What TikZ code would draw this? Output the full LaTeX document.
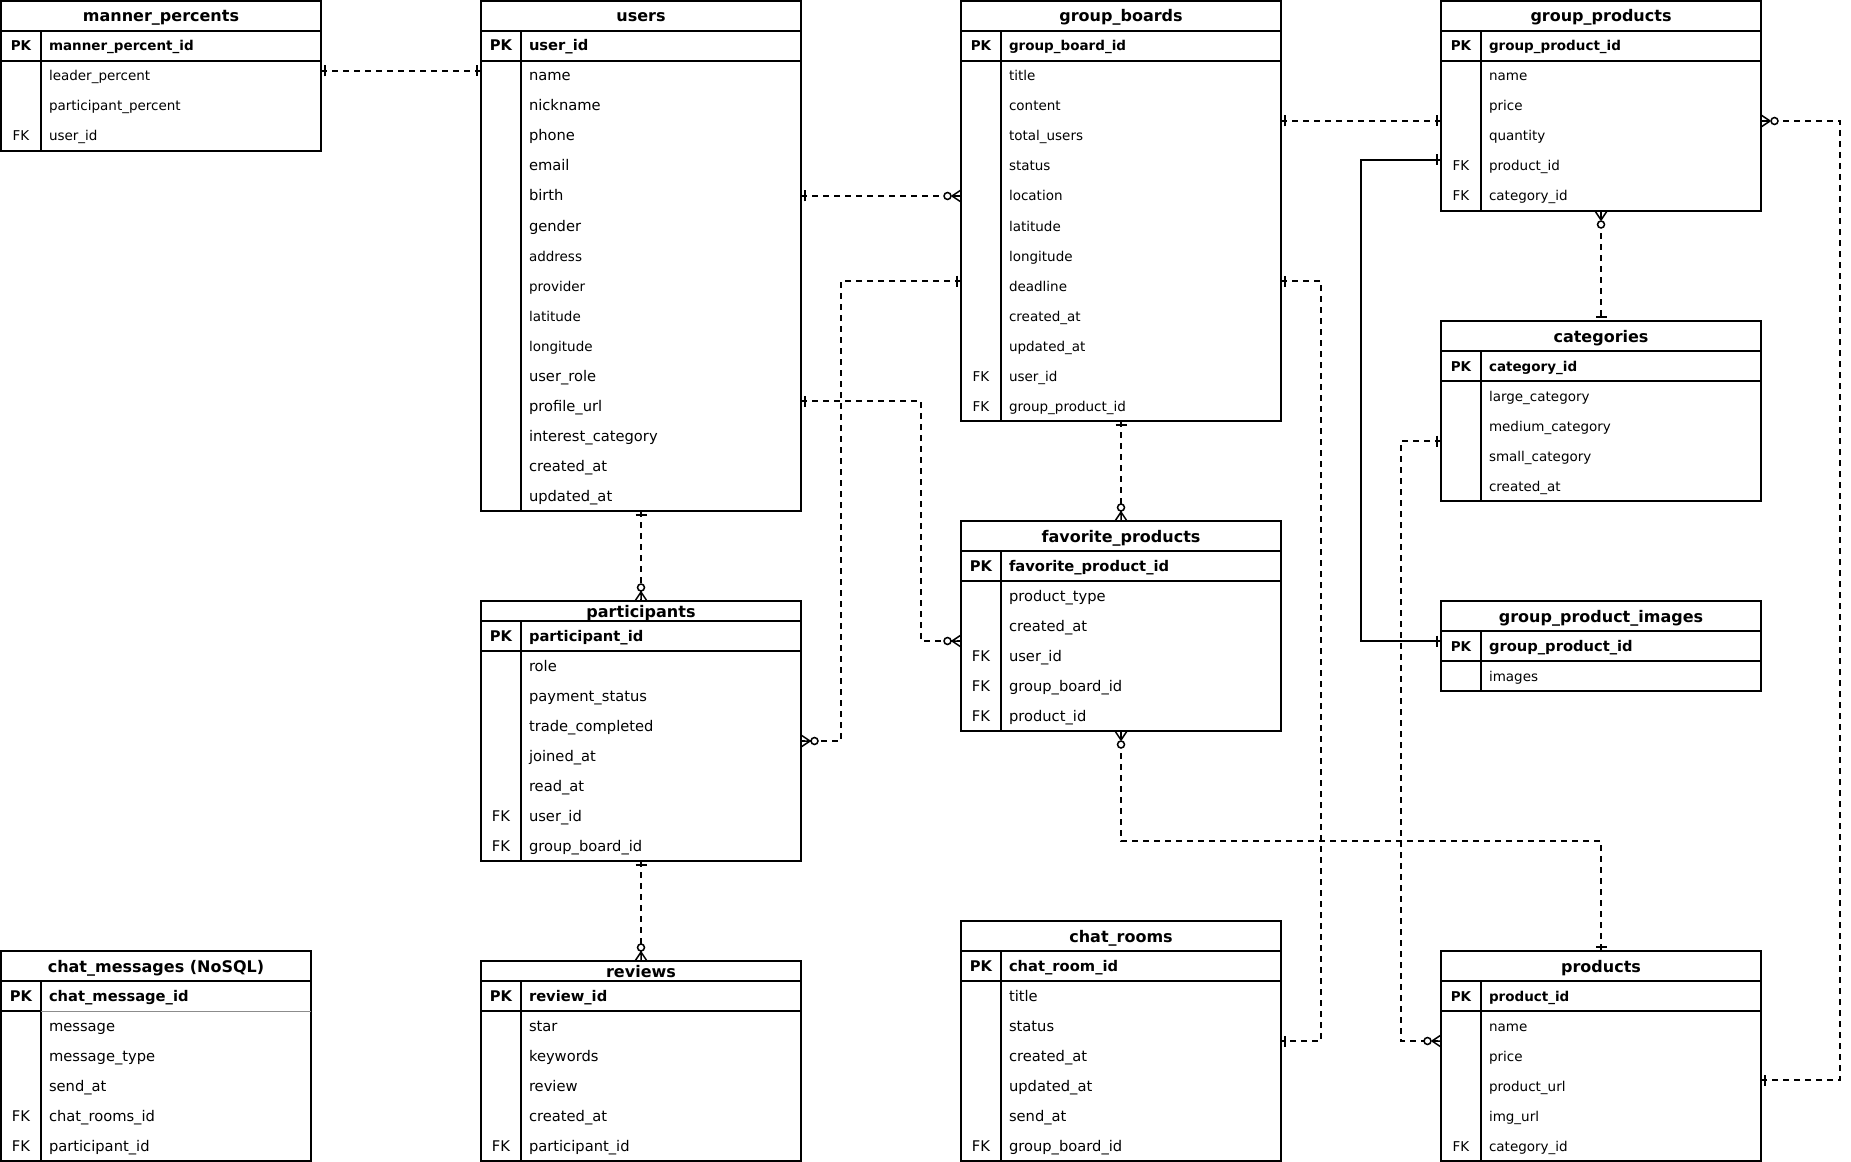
\documentclass[tikz,border=0pt]{standalone}
\usepackage{fontspec}
\setmainfont{DejaVu Sans}

\newcommand{\ersmall}{\fontsize{13.5pt}{16pt}\selectfont}
\newcommand{\erlarge}{\fontsize{14.7pt}{17pt}\selectfont}

% one entity table: id, left, top, width, title height, row font, title, pk, rows
\newcommand{\ertable}[9]{%
  \pgfmathsetmacro{\erfw}{#4-96}%
  \node[tabtitle,minimum width=#4pt,minimum height=#5pt] (#1) at (#2,#3) {#7};
  \node[pkrow,font=#6\bfseries,text width=\erfw pt] (#1-0) at (#1.south west) {#8};
  \node[keycell,font=#6\bfseries] (#1-k0) at (#1-0.west) {PK};
  \foreach \k/\f [count=\i, remember=\i as \j (initially 0)] in {#9}{
    \node[fieldrow,font=#6,text width=\erfw pt] (#1-\i) at (#1-\j.south west) {\f};
    \node[keycell,font=#6] (#1-k\i) at (#1-\i.west) {\k};
    \xdef\erlast{\i}
  }
  \draw[tabline] (#1.north west) rectangle (#1-\erlast.south east);
  \draw[tabline] (#1.south west) -- (#1.south east);
  \draw[tabline] (#1-0.south west) -- (#1-0.south east);
  \draw[tabline] ([xshift=40pt]#1.south west) -- ([xshift=40pt]#1-\erlast.south west);
}

\begin{document}
\begin{tikzpicture}[
  x=1pt, y=-1pt,
  every node/.style={outer sep=0pt},
  tabline/.style={line width=1.4pt, draw=black},
  tabtitle/.style={anchor=north west, inner sep=0pt, text height=12pt, text depth=0pt,
    font=\fontsize{16pt}{19pt}\selectfont\bfseries},
  pkrow/.style={anchor=north west, inner xsep=48pt, inner ysep=0pt, minimum height=30pt,
    align=left, text height=11pt, text depth=1pt},
  fieldrow/.style={pkrow},
  keycell/.style={anchor=west, inner sep=0pt, minimum width=40pt, minimum height=30pt,
    text height=11pt, text depth=1pt},
  rel/.style={line width=1.6pt, dash pattern=on 6pt off 5pt},
  solidrel/.style={line width=1.6pt},
  onetick/.pic={\draw[line width=1.5pt] (-4,-5.5) -- (-4,5.5);},
  zmany/.pic={
    \draw[line width=1.5pt] (-9,0) -- (0,-6) (-9,0) -- (0,6) (-9,0) -- (0,0);
    \draw[line width=1.5pt,fill=white] (-13.5,0) circle (3.5pt);}
]

\useasboundingbox (-1,-1) rectangle (1850,1160);
\fill[white] (-1,-1) rectangle (1850,1160);

% tables
\ertable{mp}{0}{0}{320}{30}{\ersmall}{manner\_percents}{manner\_percent\_id}
  {/leader\_percent, /participant\_percent, FK/user\_id}

\ertable{users}{480}{0}{320}{30}{\erlarge}{users}{user\_id}
  {/name, /nickname, /phone, /email, /birth, /gender, /\ersmall address,
   /\ersmall provider, /\ersmall latitude, /\ersmall longitude, /user\_role,
   /profile\_url, /interest\_category, /created\_at, /updated\_at}

\ertable{gb}{960}{0}{320}{30}{\ersmall}{group\_boards}{group\_board\_id}
  {/title, /content, /total\_users, /status, /location, /latitude, /longitude,
   /deadline, /created\_at, /updated\_at, FK/user\_id, FK/group\_product\_id}

\ertable{gp}{1440}{0}{320}{30}{\ersmall}{group\_products}{group\_product\_id}
  {/name, /price, /quantity, FK/product\_id, FK/category\_id}

\ertable{cat}{1440}{320}{320}{30}{\ersmall}{categories}{category\_id}
  {/large\_category, /medium\_category, /small\_category, /created\_at}

\ertable{gpi}{1440}{600}{320}{30}{\ersmall}{group\_product\_images}{\erlarge group\_product\_id}
  {/images}

\ertable{fp}{960}{520}{320}{30}{\erlarge}{favorite\_products}{favorite\_product\_id}
  {/product\_type, /created\_at, FK/user\_id, FK/group\_board\_id, FK/product\_id}

\ertable{part}{480}{600}{320}{20}{\erlarge}{participants}{participant\_id}
  {/role, /payment\_status, /trade\_completed, /joined\_at, /read\_at,
   FK/user\_id, FK/group\_board\_id}

\ertable{rev}{480}{960}{320}{20}{\erlarge}{reviews}{review\_id}
  {/star, /keywords, /review, /created\_at, FK/participant\_id}

\ertable{cm}{0}{950}{310}{30}{\erlarge}{chat\_messages (NoSQL)}{chat\_message\_id}
  {/message, /message\_type, /send\_at, FK/chat\_rooms\_id, FK/participant\_id}
\draw[white,line width=1.6pt] ([xshift=41pt]cm-0.south west) -- ([xshift=-1pt]cm-0.south east);
\draw[black!45,line width=.8pt] ([xshift=40pt]cm-0.south west) -- (cm-0.south east);

\ertable{cr}{960}{920}{320}{30}{\erlarge}{chat\_rooms}{chat\_room\_id}
  {/title, /status, /created\_at, /updated\_at, /send\_at, FK/group\_board\_id}

\ertable{pr}{1440}{950}{320}{30}{\ersmall}{products}{product\_id}
  {/name, /price, /product\_url, /img\_url, FK/category\_id}

% relations
\draw[rel] ([yshift=5pt]mp-1.east) -- ([yshift=5pt]users-1.west);
\draw[rel] (users-5.east) -- (gb-5.west);
\draw[rel] (gb-2.south east) -- (gp-2.south west);
\draw[solidrel] ([yshift=6pt]gp-4.west) -- ++(-80,0) |- ([yshift=5pt]gpi-0.west);
\draw[rel] (gp-5.south) -- (cat.north);
\draw[rel] (gp-2.south east) -- ++(79,0) |- ([yshift=6pt]pr-3.east);
\draw[rel] (users-15.south) -- (part.north);
\draw[rel] ([yshift=5pt]gb-8.west) -- ++(-120,0) |- (part-3.south east);
\draw[rel] ([yshift=5pt]users-12.east) -- ++(120,0) |- (fp-2.south west);
\draw[rel] (gb-12.south) -- (fp.north);
\draw[rel] (fp-5.south) -- ++(0,110) -| (pr.north);
\draw[rel] ([yshift=5pt]gb-8.east) -- ++(40,0) |- (cr-2.south east);
\draw[rel] (cat-2.south west) -- ++(-40,0) |- (pr-1.south west);
\draw[rel] (part-7.south) -- (rev.north);

% cardinality ends
\pic[rotate=180] at ([yshift=5pt]mp-1.east) {onetick};
\pic at ([yshift=5pt]users-1.west) {onetick};
\pic[rotate=180] at (users-5.east) {onetick};
\pic at (gb-5.west) {zmany};
\pic[rotate=180] at (gb-2.south east) {onetick};
\pic at (gp-2.south west) {onetick};
\pic at ([yshift=6pt]gp-4.west) {onetick};
\pic at ([yshift=5pt]gpi-0.west) {onetick};
\pic[rotate=90] at (gp-5.south) {zmany};
\pic[rotate=-90] at (cat.north) {onetick};
\pic[rotate=180] at (gp-2.south east) {zmany};
\pic[rotate=180] at ([yshift=6pt]pr-3.east) {onetick};
\pic[rotate=90] at (users-15.south) {onetick};
\pic[rotate=-90] at (part.north) {zmany};
\pic at ([yshift=5pt]gb-8.west) {onetick};
\pic[rotate=180] at (part-3.south east) {zmany};
\pic[rotate=180] at ([yshift=5pt]users-12.east) {onetick};
\pic at (fp-2.south west) {zmany};
\pic[rotate=90] at (gb-12.south) {onetick};
\pic[rotate=-90] at (fp.north) {zmany};
\pic[rotate=90] at (fp-5.south) {zmany};
\pic[rotate=-90] at (pr.north) {onetick};
\pic[rotate=180] at ([yshift=5pt]gb-8.east) {onetick};
\pic[rotate=180] at (cr-2.south east) {onetick};
\pic at (cat-2.south west) {onetick};
\pic at (pr-1.south west) {zmany};
\pic[rotate=90] at (part-7.south) {onetick};
\pic[rotate=-90] at (rev.north) {zmany};

\end{tikzpicture}
\end{document}
